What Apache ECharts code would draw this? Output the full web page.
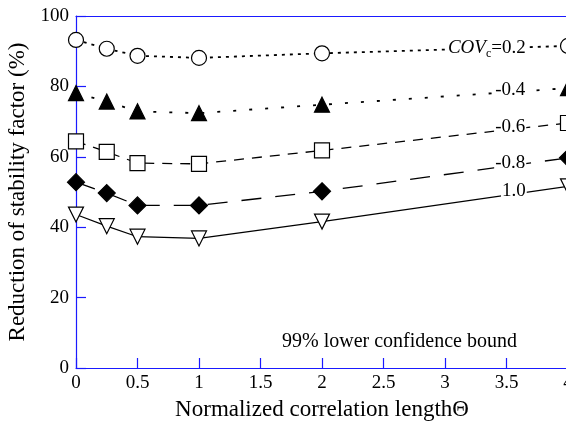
<!DOCTYPE html>
<html>
<head>
<meta charset="utf-8">
<script src="https://cdn.jsdelivr.net/npm/echarts@6/dist/echarts.min.js"></script>
<style>
  html, body { margin: 0; padding: 0; background: #fff; }
  #chart { width: 566px; height: 424px; }
</style>
</head>
<body>
<div id="chart"></div>
<script>
// x positions (normalized correlation length)
var theta = [0, 0.25, 0.5, 1, 2, 4]
// reduction of stability factor (%) per COVc
var cov02 = [93.2, 90.7, 88.7, 88.1, 89.4, 91.5]
var cov04 = [78.1, 75.7, 72.9, 72.4, 74.8, 79.5]
var cov06 = [64.4, 61.4, 58.2, 58.0, 61.8, 69.6]
var cov08 = [52.8, 49.7, 46.2, 46.2, 50.2, 59.7]
var cov10 = [43.6, 40.3, 37.3, 36.8, 41.6, 51.6]
var xTicks = [0, 0.5, 1, 1.5, 2, 2.5, 3, 3.5, 4]
var yTicks = [0, 20, 40, 60, 80, 100]

var serif = '"Liberation Serif", "DejaVu Serif", serif'
var axisBlue = '#1a1aff'

function pairs(vals) {
    var out = []
    for (let i = 0; i < theta.length; i++) {
        out.push([theta[i], vals[i]])
    }
    return out
}

// label sitting on the curve, white box hides the line behind it
function tag(x, y, text) {
    return {
        markPoint: {
            symbol: 'rect',
            symbolSize: 0,
            silent: true,
            data: [{ coord: [x, y] }],
            label: {
                show: true,
                position: 'inside',
                formatter: text,
                color: '#000',
                fontFamily: serif,
                fontSize: 19,
                backgroundColor: '#fff',
                padding: [0, 1],
                rich: {
                    i: { fontStyle: 'italic', fontFamily: serif, fontSize: 19, color: '#000' },
                    s: { fontFamily: serif, fontSize: 12, color: '#000', verticalAlign: 'bottom', padding: [12, 0, 0, 0] },
                    n: { fontFamily: serif, fontSize: 19, color: '#000' }
                }
            }
        }
    }
}

function mkSeries(vals, symbol, rotate, filled, dash, width, label) {
    var s = {
        type: 'line',
        data: pairs(vals),
        clip: false,
        symbol: symbol,
        symbolSize: symbol === 'diamond' ? 17 : 15,
        symbolRotate: rotate,
        showAllSymbol: true,
        z: 3,
        lineStyle: { color: '#000', width: width, type: dash },
        itemStyle: {
            color: filled ? '#000' : '#fff',
            borderColor: '#000',
            borderWidth: 1.2
        }
    }
    return Object.assign(s, label)
}

var myChart = echarts.init(document.getElementById('chart'))

var option = {
    animation: false,
    grid: { left: 76, top: 16, right: -2, bottom: 56, containLabel: false, outerBoundsMode: 'none' },
    xAxis: [{
        type: 'value',
        min: 0,
        max: 4,
        interval: 0.5,
        name: 'Normalized correlation length\u0398',
        nameLocation: 'middle',
        nameGap: 30,
        nameTextStyle: { fontFamily: serif, fontSize: 23, color: '#000' },
        axisLine: { show: true, lineStyle: { color: axisBlue, width: 1.2 } },
        axisTick: { show: true, inside: true, length: 10, lineStyle: { color: axisBlue, width: 1.2 } },
        axisLabel: {
            fontFamily: serif, fontSize: 19, color: '#000', margin: 6,
            formatter: function (v) { return xTicks.indexOf(v) >= 0 ? String(v) : '' }
        },
        splitLine: { show: false }
    }, {
        type: 'value',
        position: 'top',
        min: 0,
        max: 4,
        axisLine: { show: true, lineStyle: { color: axisBlue, width: 1.2 } },
        axisTick: { show: false },
        axisLabel: { show: false },
        splitLine: { show: false }
    }],
    yAxis: {
        type: 'value',
        min: 0,
        max: 100,
        interval: 20,
        name: 'Reduction of stability factor (%)',
        nameLocation: 'middle',
        nameGap: 44,
        nameTextStyle: { fontFamily: serif, fontSize: 23, color: '#000' },
        axisLine: { show: true, lineStyle: { color: axisBlue, width: 1.2 } },
        axisTick: { show: true, inside: true, length: 10, lineStyle: { color: axisBlue, width: 1.2 } },
        axisLabel: {
            fontFamily: serif, fontSize: 19, color: '#000', margin: 7,
            formatter: function (v) { return yTicks.indexOf(v) >= 0 ? String(v) : '' }
        },
        splitLine: { show: false }
    },
    graphic: [{
        type: 'text',
        left: 282,
        top: 332,
        style: { text: '99% lower confidence bound', font: '20px ' + serif, fill: '#000' }
    }],
    series: [
        mkSeries(cov02, 'circle', 0, false, [3, 5], 1.8, tag(3.34, 91.0, '{i|COV}{s|c}{n|=0.2}')),
        mkSeries(cov04, 'triangle', 0, true, [3, 13], 1.8, tag(3.53, 79.1, '-0.4')),
        mkSeries(cov06, 'rect', 0, false, [10, 8], 1.3, tag(3.53, 68.5, '-0.6')),
        mkSeries(cov08, 'diamond', 0, true, [20, 14], 1.3, tag(3.53, 58.3, '-0.8')),
        mkSeries(cov10, 'triangle', 180, false, 'solid', 1.2, tag(3.56, 50.3, '1.0'))
    ]
}

myChart.setOption(option)
window.addEventListener('resize', function () {
    myChart.resize()
})
</script>
</body>
</html>
